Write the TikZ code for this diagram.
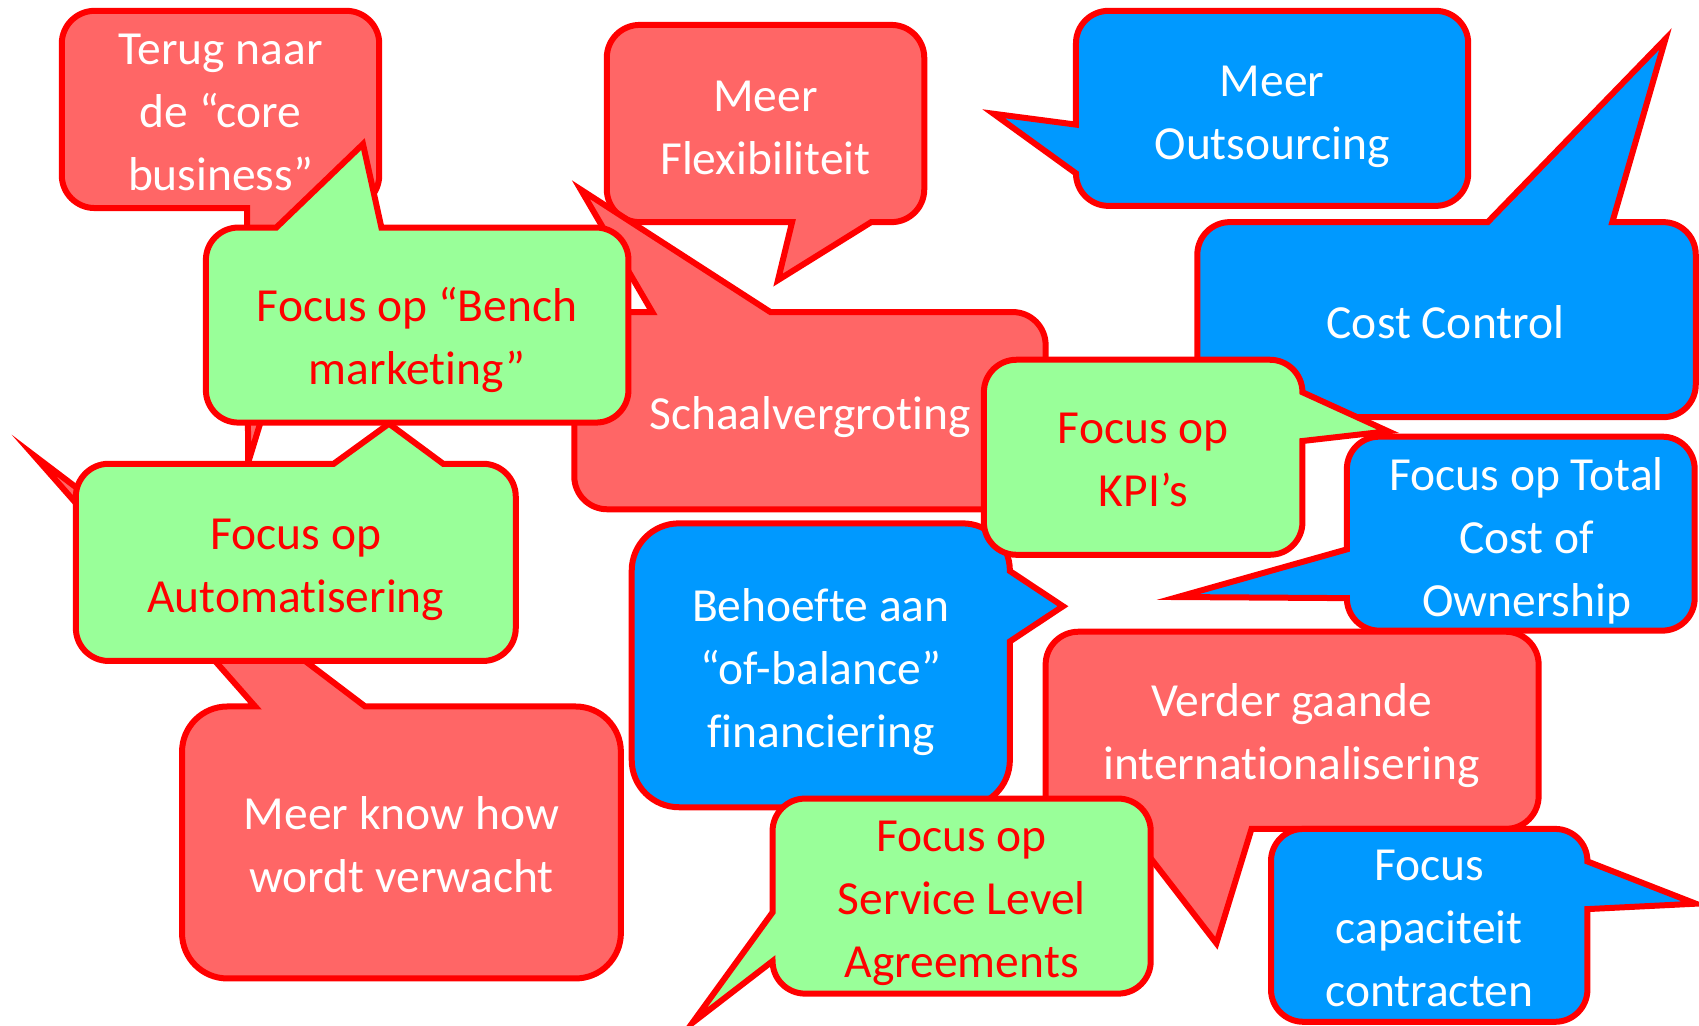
\documentclass[tikz,border=0pt]{standalone}
\usepackage{fontspec}
\setmainfont{Carlito}[Ligatures={NoCommon}]
\definecolor{bred}{HTML}{FF0000}
\definecolor{fred}{HTML}{FF6666}
\definecolor{fblue}{HTML}{0099FF}
\definecolor{fgreen}{HTML}{99FF99}
\newcommand\bubfont{\fontsize{47.5}{63}\selectfont}
% #1 style, #2 L, #3 T, #4 R, #5 B, #6 top tail, #7 right tail, #8 bottom tail, #9 left tail
\newcommand\bubble[9]{%
  \pgfmathsetmacro\rr{min(#4-#2,#5-#3)/6}%
  \pgfmathsetmacro\cc{0.4477*\rr}%
  \draw[#1] ({#2+\rr},#3) #6 -- ({#4-\rr},#3)
    .. controls ({#4-\cc},#3) and (#4,{#3+\cc}) .. (#4,{#3+\rr})
    #7 -- (#4,{#5-\rr})
    .. controls (#4,{#5-\cc}) and ({#4-\cc},#5) .. ({#4-\rr},#5)
    #8 -- ({#2+\rr},#5)
    .. controls ({#2+\cc},#5) and (#2,{#5-\cc}) .. (#2,{#5-\rr})
    #9 -- (#2,{#3+\rr})
    .. controls (#2,{#3+\cc}) and ({#2+\cc},#3) .. ({#2+\rr},#3) -- cycle;}
\tikzset{
  bub/.style={draw=bred, line width=6pt, miter limit=30},
  redb/.style={bub, fill=fred},
  blueb/.style={bub, fill=fblue},
  greenb/.style={bub, fill=fgreen},
  wtxt/.style={text=white, font=\bubfont, align=center, inner sep=0pt},
  rtxt/.style={text=bred, font=\bubfont, align=center, inner sep=0pt}
}
\begin{document}
\begin{tikzpicture}[x=1.0836pt, y=-1.0836pt]
\path[fill=white, use as bounding box] (0,0) rectangle (1568,946);

% Terug naar de core business
\bubble{redb}{57}{10}{350}{192}{}{}{-- (301,192) -- (229,427) -- (228,192)}{}
\node[wtxt] (terug) at (203.5,106) {\strut Terug naar\\de “core\\business”\strut};

% Meer Flexibiliteit
\bubble{redb}{560}{23}{853}{205}{}{}{-- (804,205) -- (718,258.5) -- (731,205)}{}
\node[wtxt] (flex) at (706.5,120) {\strut Meer\\Flexibiliteit\strut};

% Meer Outsourcing
\bubble{blueb}{993}{10}{1355}{190}{}{}{}{-- (993,160) -- (917,105) -- (993,115)}
\node[wtxt] (outs) at (1174,106.5) {\strut Meer\\Outsourcing\strut};

% Cost Control
\bubble{blueb}{1105}{205}{1565}{385}{-- (1373,205) -- (1537,36) -- (1488,205)}{}{}{}
\node[wtxt] (cost) at (1334,301) {\strut Cost Control};

% Schaalvergroting
\bubble{redb}{530}{288}{965}{470}{-- (602,288) -- (536,175) -- (711,288)}{}{}{}
\node[wtxt] (schaal) at (747.5,385) {\strut Schaalvergroting};

% Focus op Bench marketing
\bubble{greenb}{190}{210}{580}{390}{-- (255,210) -- (335,133) -- (352,210)}{}{}{}
\node[rtxt] (bench) at (385,314) {\strut Focus op “Bench\\marketing”\strut};

% Meer know how wordt verwacht
\bubble{redb}{168}{652}{573}{903}{-- (235.5,652) -- (31,420) -- (337,652)}{}{}{}
\node[wtxt] (knowhow) at (370.5,783) {\strut Meer know how\\wordt verwacht\strut};

% Focus op Automatisering
\bubble{greenb}{70}{428}{476}{610}{-- (308,428) -- (359,391) -- (409,428)}{}{}{}
\node[rtxt] (autom) at (273,525) {\strut Focus op\\Automatisering\strut};

% Behoefte aan of-balance financiering
\bubble{blueb}{583}{483}{932}{745}{}{-- (932,527) -- (981,559.5) -- (932,592)}{}{}
\node[wtxt] (behoefte) at (757.5,620) {\strut Behoefte aan\\“of-balance”\\financiering\strut};

% Focus op Total Cost of Ownership
\bubble{blueb}{1243}{403}{1564}{582}{}{}{}{-- (1243,552) -- (1087,551) -- (1243,507)}
\node[wtxt] (tco) at (1409,499) {\strut Focus op Total\\Cost of\\Ownership\strut};

% Focus op KPI's
\bubble{greenb}{908}{332}{1202}{512}{}{-- (1202,362) -- (1281,398) -- (1202,407)}{}{}
\node[rtxt] (kpi) at (1055,427) {\strut Focus op\\KPI’s\strut};

% Verder gaande internationalisering
\bubble{redb}{965}{583}{1420}{765}{}{}{-- (1155,765) -- (1122.6,870.5) -- (1041,765)}{}
\node[wtxt] (verder) at (1192,679) {\strut Verder gaande\\internationalisering\strut};

% Focus capaciteit contracten
\bubble{blueb}{1173}{765}{1465}{943}{}{-- (1465,795) -- (1565,834) -- (1465,839)}{}{}
\node[wtxt] (capa) at (1319,859) {\strut Focus\\capaciteit\\contracten\strut};

% Focus op Service Level Agreements
\bubble{greenb}{713}{737}{1062}{917}{}{}{}{-- (713,887) -- (639,944) -- (713,842)}
\node[rtxt] (sla) at (887.5,832) {\strut Focus op\\Service Level\\Agreements\strut};
\end{tikzpicture}
\end{document}
